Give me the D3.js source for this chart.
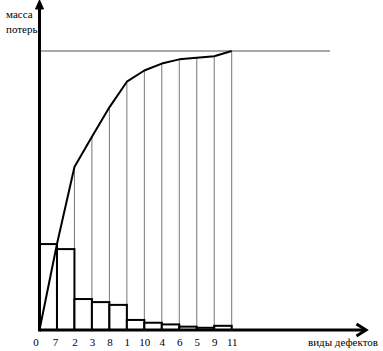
<!DOCTYPE html>
<html>
<head>
<meta charset="utf-8">
<script src="https://cdn.jsdelivr.net/npm/d3@7"></script>
<style>
  body { margin: 0; background: #fff; }
  text { font-family: "Liberation Serif", "DejaVu Serif", serif; }
</style>
</head>
<body>
<div id="chart"></div>
<script>
// defect types in Pareto order (first label is the origin)
var tickLabels = ["0", "7", "2", "3", "8", "1", "10", "4", "6", "5", "9", "11"];
// loss mass per defect type (bars), % of total
var lossValues = [30.8, 29.0, 11.1, 10.0, 9.0, 3.6, 2.6, 2.0, 1.2, 0.8, 1.5];
// cumulative curve
var cumValues = [0, 30.8, 58.4, 69.3, 79.8, 89.0, 93.0, 95.5, 97.0, 97.6, 98.1, 100];

var width = 383, height = 351;

var svg = d3.select("#chart")
  .append("svg")
    .attr("width", width)
    .attr("height", height)

// x: bar boundaries, y: loss mass
var x = d3.scalePoint()
  .domain(tickLabels)
  .range([39.5, 231.7])

var y = d3.scaleLinear()
  .domain([0, 100])
  .range([330, 51])

// top 100% line
svg.append("line")
  .attr("x1", x("0")).attr("x2", 330)
  .attr("y1", y(100)).attr("y2", y(100))
  .attr("stroke", "#555")
  .attr("stroke-width", 1)

// thin verticals from curve points down to axis
svg.append("g")
  .selectAll("line")
  .data(cumValues.slice(1))
  .enter()
  .append("line")
    .attr("x1", function (d, i) { return x(tickLabels[i + 1]) })
    .attr("x2", function (d, i) { return x(tickLabels[i + 1]) })
    .attr("y1", function (d) { return y(d) })
    .attr("y2", y(0))
    .attr("stroke", "#777")
    .attr("stroke-width", 1)

// bars
svg.append("g")
  .selectAll("rect")
  .data(lossValues)
  .enter()
  .append("rect")
    .attr("x", function (d, i) { return x(tickLabels[i]) })
    .attr("width", function (d, i) { return x(tickLabels[i + 1]) - x(tickLabels[i]) })
    .attr("y", function (d) { return y(d) })
    .attr("height", function (d) { return y(0) - y(d) })
    .attr("fill", "white")
    .attr("stroke", "black")
    .attr("stroke-width", 2)

// cumulative curve
var line = d3.line()
  .x(function (d, i) { return x(tickLabels[i]) })
  .y(function (d) { return y(d) })

svg.append("path")
  .datum(cumValues)
  .attr("d", line)
  .attr("fill", "none")
  .attr("stroke", "black")
  .attr("stroke-width", 2)
  .attr("stroke-linejoin", "round")

// axes with arrows
svg.append("line")
  .attr("x1", x("0")).attr("x2", x("0"))
  .attr("y1", y(0) + 1.5).attr("y2", 4)
  .attr("stroke", "black").attr("stroke-width", 3)
svg.append("path")
  .attr("d", "M" + (x("0") - 4) + ",9 L" + x("0") + ",0 L" + (x("0") + 4) + ",9 Z")
  .attr("fill", "black")
  .attr("stroke", "black").attr("stroke-width", 1)

svg.append("line")
  .attr("x1", x("0")).attr("x2", 365)
  .attr("y1", y(0)).attr("y2", y(0))
  .attr("stroke", "black").attr("stroke-width", 3)
svg.append("path")
  .attr("d", "M356.5,324 L366,330 L356.5,336")
  .attr("fill", "none")
  .attr("stroke", "black").attr("stroke-width", 3)

// tick labels
var xAxis = svg.append("g")
  .attr("transform", "translate(0," + (y(0) + 4) + ")")
  .call(d3.axisBottom(x).tickSize(0).tickPadding(4))
xAxis.select(".domain").remove()
xAxis.selectAll("text")
  .style("font-family", "Liberation Serif, serif")
  .style("font-size", "11px")
  .attr("fill", "black")
  .attr("dx", function (d) { return d === "0" ? -4 : (d === "7" ? -2 : 0) })

// axis titles
svg.append("text")
  .attr("x", 6).attr("y", 18)
  .style("font-size", "11px")
  .text("масса")
svg.append("text")
  .attr("x", 6).attr("y", 33)
  .style("font-size", "11px")
  .text("потерь")

svg.append("text")
  .attr("x", 378).attr("y", 346)
  .attr("text-anchor", "end")
  .style("font-size", "11px")
  .text("виды дефектов")
</script>
</body>
</html>
